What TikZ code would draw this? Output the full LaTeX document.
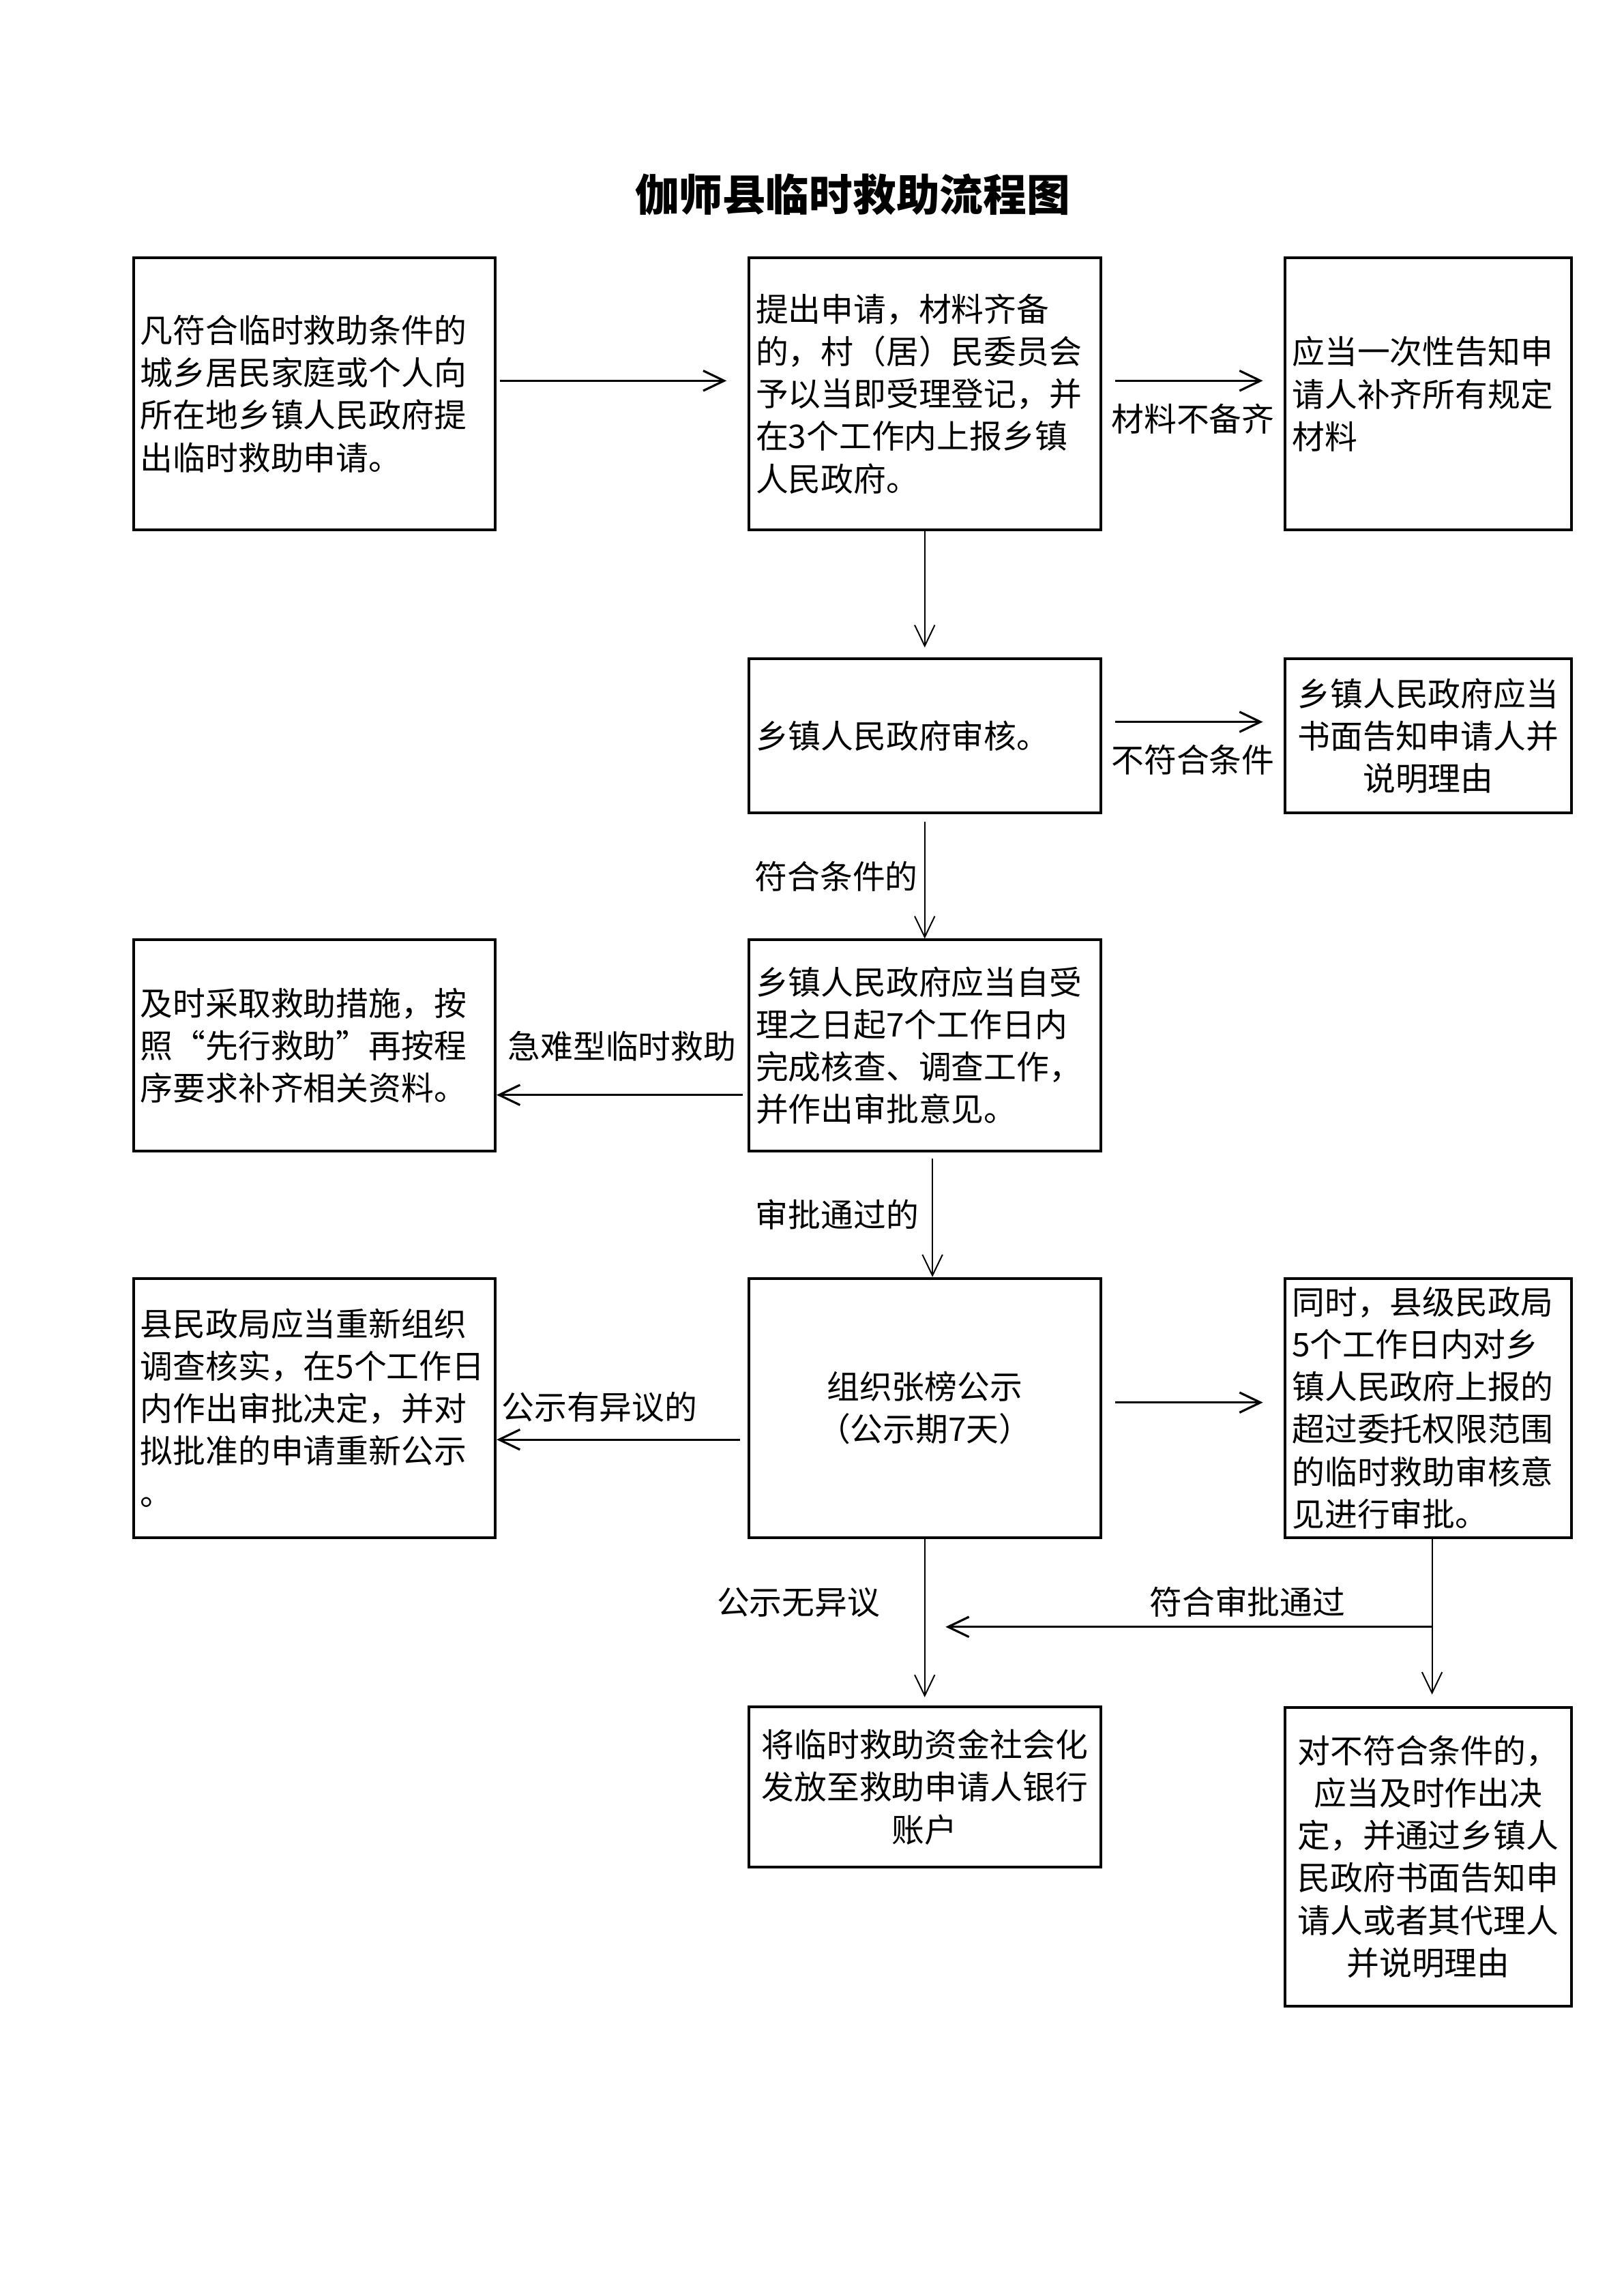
\documentclass[tikz,border=0pt]{standalone}
\usepackage{fontspec}
\newfontfamily\cjk{Noto Sans CJK SC}
\usetikzlibrary{arrows.meta}
\begin{document}
\begin{tikzpicture}[
    box/.style={draw,line width=1pt,inner xsep=0.09cm,inner ysep=0pt,font=\cjk\fontsize{12}{15.6}\selectfont},
    lbox/.style={box,align=left},
    cbox/.style={box,align=center},
    lab/.style={inner sep=0pt,font=\cjk\fontsize{12}{15.6}\selectfont},
    arr/.style={-{Straight Barb[length=0.27cm,width=0.26cm]},line width=0.5pt},
    harr/.style={arr,line width=0.8pt}]
        \useasboundingbox(0,0)rectangle(21,-29.7);
        \node[font=\cjk\bfseries\fontsize{16}{19}\selectfont](T)at(11.03,-2.52){伽师县临时救助流程图};
        \node[lbox,text width=4.50cm,minimum height=3.52cm](A)at(4.065,-5.095){凡符合临时救助条件的\\城乡居民家庭或个人向\\所在地乡镇人民政府提\\出临时救助申请。};
        \node[lbox,text width=4.37cm,minimum height=3.52cm](B)at(11.959,-5.095){提出申请，材料齐备\\的，村（居）民委员会\\予以当即受理登记，并\\在3个工作内上报乡镇\\人民政府。};
        \node[lbox,text width=3.52cm,minimum height=3.52cm](C)at(18.470,-5.095){应当一次性告知申\\请人补齐所有规定\\材料};
        \node[lbox,text width=4.37cm,minimum height=1.99cm](D)at(11.959,-9.518){乡镇人民政府审核。};
        \node[cbox,text width=3.52cm,minimum height=1.99cm](E)at(18.470,-9.518){乡镇人民政府应当\\书面告知申请人并\\说明理由};
        \node[lbox,text width=4.50cm,minimum height=2.73cm](F)at(4.065,-13.524){及时采取救助措施，按\\照“先行救助”再按程\\序要求补齐相关资料。};
        \node[lbox,text width=4.37cm,minimum height=2.73cm](G)at(11.959,-13.524){乡镇人民政府应当自受\\理之日起7个工作日内\\完成核查、调查工作，\\并作出审批意见。};
        \node[lbox,text width=4.50cm,minimum height=3.35cm](H)at(4.065,-18.212){县民政局应当重新组织\\调查核实，在5个工作日\\内作出审批决定，并对\\拟批准的申请重新公示\\。};
        \node[cbox,text width=4.37cm,minimum height=3.35cm](I)at(11.959,-18.212){组织张榜公示\\（公示期7天）};
        \node[lbox,text width=3.52cm,minimum height=3.35cm](J)at(18.470,-18.212){同时，县级民政局\\5个工作日内对乡\\镇人民政府上报的\\超过委托权限范围\\的临时救助审核意\\见进行审批。};
        \node[cbox,text width=4.37cm,minimum height=2.07cm](K)at(11.959,-23.117){将临时救助资金社会化\\发放至救助申请人银行\\账户};
        \node[cbox,text width=3.52cm,minimum height=3.86cm](L)at(18.470,-24.017){对不符合条件的，\\应当及时作出决\\定，并通过乡镇人\\民政府书面告知申\\请人或者其代理人\\并说明理由};
        \draw[harr,shorten <=0.04cm,shorten >=0.27cm]([yshift=0.17cm]A.east)--([yshift=0.17cm]B.west);
        \draw[harr,shorten <=0.17cm,shorten >=0.27cm]([yshift=0.17cm]B.east)--([yshift=0.17cm]C.west)node[lab,midway,below=0.28cm]{材料不备齐};
        \draw[arr,shorten >=0.13cm](B.south)--(D.north);
        \draw[harr,shorten <=0.17cm,shorten >=0.27cm]([yshift=0.18cm]D.east)--([yshift=0.18cm]E.west)node[lab,midway,below=0.28cm]{不符合条件};
        \draw[arr,shorten <=0.1cm](D.south)--(G.north)node[lab,midway,left=0.08cm]{符合条件的};
        \draw[harr,shorten <=0.06cm]([yshift=-0.64cm]G.west)--([yshift=-0.64cm]F.east)node[lab,midway,above=0.42cm]{急难型临时救助};
        \draw[arr,shorten <=0.08cm]([xshift=0.1cm]G.south)--([xshift=0.1cm]I.north)node[lab,midway,left=0.17cm]{审批通过的};
        \draw[harr,shorten <=0.1cm]([yshift=-0.41cm]I.west)--([yshift=-0.41cm]H.east)node[lab,pos=0.59,above=0.21cm]{公示有异议的};
        \draw[harr,shorten <=0.17cm,shorten >=0.27cm]([yshift=0.07cm]I.east)--([yshift=0.07cm]J.west);
        \draw[arr,shorten >=0.11cm](I.south)--(K.north)node[lab,pos=0.38,left=0.57cm]{公示无异议};
        \draw[arr,shorten >=0.15cm]([xshift=0.05cm]J.south)--([xshift=0.05cm]L.north);
        \coordinate(M)at([xshift=0.05cm,yshift=-1.14cm]J.south);
        \draw[harr,shorten >=0.27cm](M)--(M-|K)node[lab,pos=0.364,above=0.11cm]{符合审批通过};
    \end{tikzpicture}
\end{document}
